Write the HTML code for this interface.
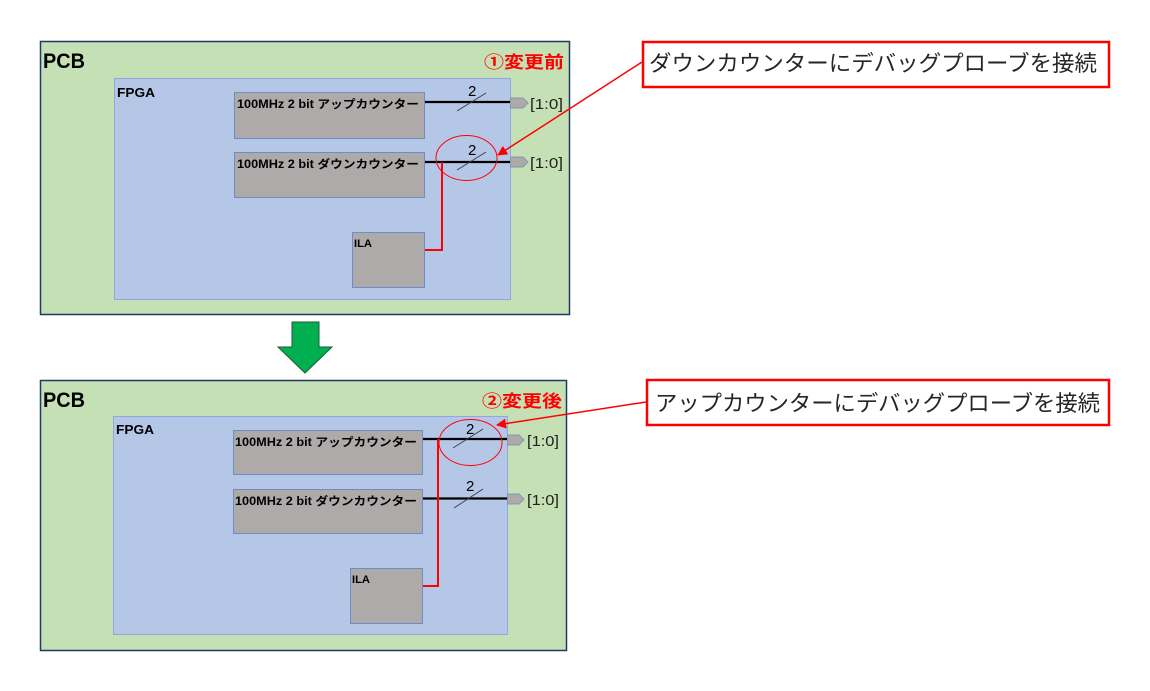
<!DOCTYPE html>
<html><head><meta charset="utf-8"><style>
html,body{margin:0;padding:0;background:#fff;}
svg{display:block;}
.b{font-family:"Liberation Sans","Noto Sans CJK JP",sans-serif;font-weight:bold;}
.j{font-family:"Liberation Sans","Noto Sans CJK JP",sans-serif;}
</style></head><body>
<svg width="1150" height="691" viewBox="0 0 1150 691" xmlns="http://www.w3.org/2000/svg">
<defs>
<marker id="ah" markerWidth="10" markerHeight="10" refX="9" refY="5" orient="auto" markerUnits="userSpaceOnUse">
<path d="M0,0 L10,5 L0,10 z" fill="#FF0000"/>
</marker>
</defs>

<!-- ===== TOP PANEL ===== -->
<rect x="40.5" y="41.5" width="529" height="273" fill="#C5E0B4" stroke="#1F3864" stroke-width="1.5"/>
<text x="43" y="68" class="b" font-size="21" fill="#000" textLength="42" lengthAdjust="spacingAndGlyphs">PCB</text>
<text x="484" y="68" class="b" font-size="17" fill="#FF0000" textLength="80" lengthAdjust="spacingAndGlyphs">①変更前</text>

<rect x="114.5" y="78.5" width="396" height="221" fill="#B4C7E7" stroke="#8EA9DB" stroke-width="1"/>
<text x="117" y="97" class="b" font-size="13" fill="#000" textLength="38" lengthAdjust="spacingAndGlyphs">FPGA</text>

<rect x="234.5" y="92.5" width="190" height="46" fill="#AEAAAA" stroke="#6D8DC4" stroke-width="1"/>
<text x="237" y="108" class="b" font-size="11.5" fill="#000" textLength="182" lengthAdjust="spacingAndGlyphs">100MHz 2 bit アップカウンター</text>
<rect x="234.5" y="152.5" width="190" height="45" fill="#AEAAAA" stroke="#6D8DC4" stroke-width="1"/>
<text x="237" y="168" class="b" font-size="11.5" fill="#000" textLength="182" lengthAdjust="spacingAndGlyphs">100MHz 2 bit ダウンカウンター</text>
<rect x="352.5" y="232.5" width="72" height="55" fill="#AEAAAA" stroke="#6D8DC4" stroke-width="1"/>
<text x="354" y="247" class="b" font-size="11" fill="#000" textLength="18" lengthAdjust="spacingAndGlyphs">ILA</text>

<!-- up line -->
<line x1="425" y1="102" x2="510" y2="102" stroke="#000" stroke-width="2.2"/>
<line x1="457" y1="111" x2="486" y2="93" stroke="#404040" stroke-width="1"/>
<text x="468" y="96" class="j" font-size="15" fill="#000">2</text>
<polygon points="510.5,98 523,98 528,103 523,108 510.5,108" fill="#AEAAAA" stroke="#8497B0" stroke-width="1"/>
<text x="530" y="109" class="j" font-size="15" fill="#222" textLength="33" lengthAdjust="spacingAndGlyphs">[1:0]</text>

<!-- down line -->
<line x1="425" y1="162" x2="510" y2="162" stroke="#000" stroke-width="2.2"/>
<line x1="457" y1="170" x2="486" y2="152" stroke="#404040" stroke-width="1"/>
<text x="468" y="155" class="j" font-size="15" fill="#000">2</text>
<polygon points="510.5,157 523,157 528,162 523,167 510.5,167" fill="#AEAAAA" stroke="#8497B0" stroke-width="1"/>
<text x="530" y="168" class="j" font-size="15" fill="#222" textLength="33" lengthAdjust="spacingAndGlyphs">[1:0]</text>

<!-- red probe -->
<polyline points="425,250 442,250 442,162" fill="none" stroke="#FF0000" stroke-width="2"/>
<ellipse cx="466.5" cy="158" rx="30.5" ry="22.5" fill="none" stroke="#FF0000" stroke-width="1"/>

<!-- callout 1 -->
<rect x="643" y="42" width="466" height="45" fill="#fff" stroke="#FF0000" stroke-width="2.5"/>
<text x="649" y="71" class="j" font-size="22" fill="#262626" textLength="448" lengthAdjust="spacingAndGlyphs">ダウンカウンターにデバッグプローブを接続</text>
<line x1="642" y1="62" x2="498" y2="155" stroke="#FF0000" stroke-width="1.5" marker-end="url(#ah)"/>

<!-- green arrow -->
<polygon points="292,322 319,322 319,347 332,347 305,373 278,347 292,347" fill="#00B050" stroke="#1F5A36" stroke-width="1"/>

<!-- ===== BOTTOM PANEL ===== -->
<rect x="40.5" y="380.5" width="526" height="270" fill="#C5E0B4" stroke="#1F3864" stroke-width="1.5"/>
<text x="43" y="407" class="b" font-size="21" fill="#000" textLength="42" lengthAdjust="spacingAndGlyphs">PCB</text>
<text x="482" y="407" class="b" font-size="17" fill="#FF0000" textLength="80" lengthAdjust="spacingAndGlyphs">②変更後</text>

<rect x="113.5" y="416.5" width="394" height="218" fill="#B4C7E7" stroke="#8EA9DB" stroke-width="1"/>
<text x="116" y="434" class="b" font-size="13" fill="#000" textLength="38" lengthAdjust="spacingAndGlyphs">FPGA</text>

<rect x="233.5" y="430.5" width="189" height="44" fill="#AEAAAA" stroke="#6D8DC4" stroke-width="1"/>
<text x="235" y="446" class="b" font-size="11.5" fill="#000" textLength="182" lengthAdjust="spacingAndGlyphs">100MHz 2 bit アップカウンター</text>
<rect x="233.5" y="489.5" width="189" height="44" fill="#AEAAAA" stroke="#6D8DC4" stroke-width="1"/>
<text x="235" y="505" class="b" font-size="11.5" fill="#000" textLength="182" lengthAdjust="spacingAndGlyphs">100MHz 2 bit ダウンカウンター</text>
<rect x="350.5" y="568.5" width="72" height="55" fill="#AEAAAA" stroke="#6D8DC4" stroke-width="1"/>
<text x="352" y="583" class="b" font-size="11" fill="#000" textLength="18" lengthAdjust="spacingAndGlyphs">ILA</text>

<!-- up line -->
<line x1="423" y1="439" x2="507" y2="439" stroke="#000" stroke-width="2.2"/>
<line x1="453" y1="448" x2="483" y2="429" stroke="#404040" stroke-width="1"/>
<text x="466" y="434" class="j" font-size="15" fill="#000">2</text>
<polygon points="507.5,435 519,435 524,440 519,445 507.5,445" fill="#AEAAAA" stroke="#8497B0" stroke-width="1"/>
<text x="527" y="446" class="j" font-size="15" fill="#222" textLength="32" lengthAdjust="spacingAndGlyphs">[1:0]</text>

<!-- down line -->
<line x1="423" y1="498.5" x2="507" y2="498.5" stroke="#000" stroke-width="2.2"/>
<line x1="454" y1="508" x2="483" y2="489" stroke="#404040" stroke-width="1"/>
<text x="466" y="491" class="j" font-size="15" fill="#000">2</text>
<polygon points="507.5,494 519,494 524,499 519,504 507.5,504" fill="#AEAAAA" stroke="#8497B0" stroke-width="1"/>
<text x="527" y="505" class="j" font-size="15" fill="#222" textLength="32" lengthAdjust="spacingAndGlyphs">[1:0]</text>

<!-- red probe -->
<polyline points="423,586 438,586 438,439" fill="none" stroke="#FF0000" stroke-width="2"/>
<ellipse cx="470.5" cy="442.5" rx="31.5" ry="23" fill="none" stroke="#FF0000" stroke-width="1"/>

<!-- callout 2 -->
<rect x="647" y="380" width="462" height="45" fill="#fff" stroke="#FF0000" stroke-width="2.5"/>
<text x="655" y="411" class="j" font-size="22" fill="#262626" textLength="445" lengthAdjust="spacingAndGlyphs">アップカウンターにデバッグプローブを接続</text>
<line x1="646" y1="402" x2="497" y2="425" stroke="#FF0000" stroke-width="1.5" marker-end="url(#ah)"/>
</svg>
</body></html>
